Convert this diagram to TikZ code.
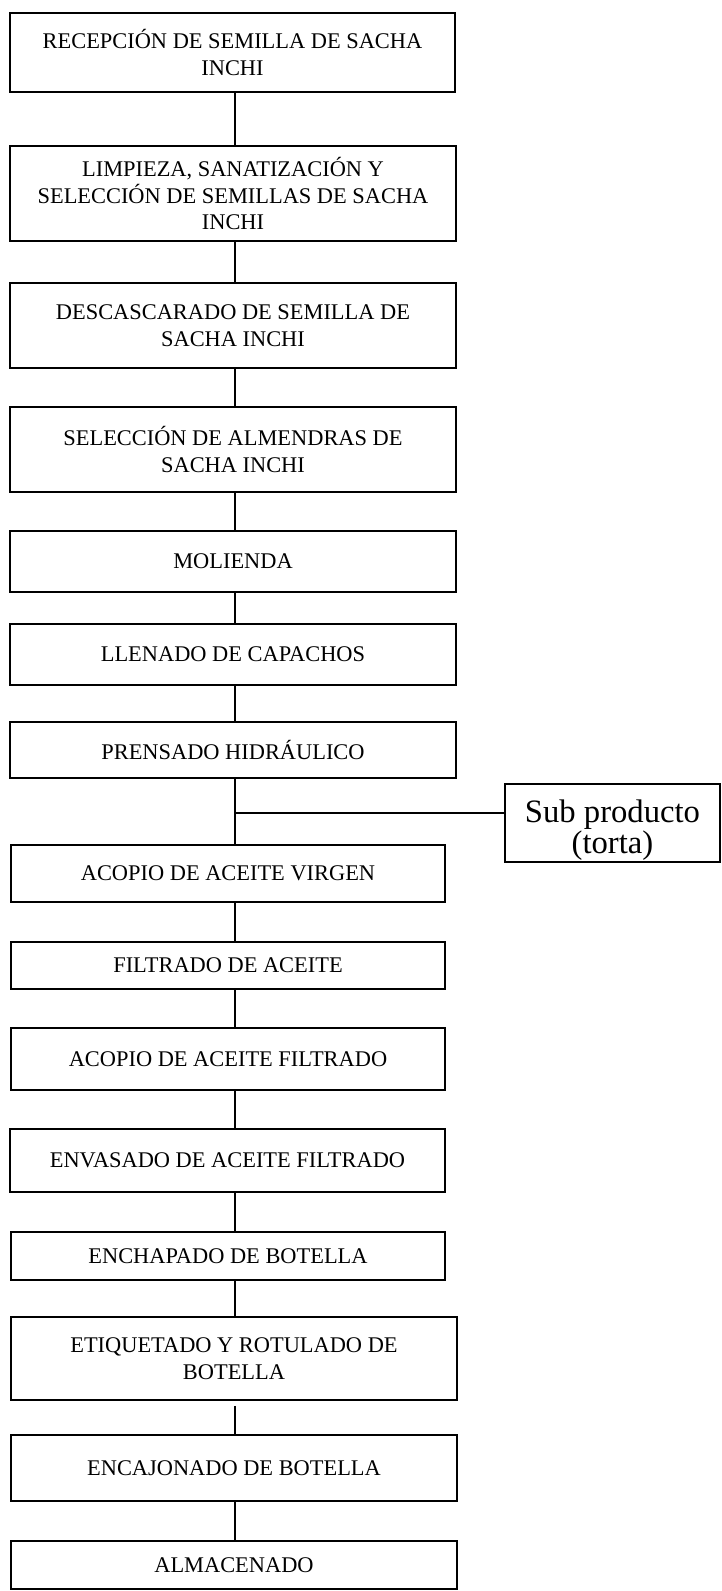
\documentclass[tikz,border=0pt]{standalone}
\usepackage{fontspec}
\setmainfont{Liberation Serif}
\begin{document}
\begin{tikzpicture}[x=0.75pt,y=-0.75pt,
  pbox/.style={draw=black, line width=1.4pt, inner sep=0pt, align=center,
    font=\fontsize{16.8}{20}\selectfont},
  link/.style={draw=black, line width=1.4pt}]
\useasboundingbox (0,0) rectangle (721,1591);
\coordinate (sp) at (235,0);
\node[pbox, minimum width=445*0.75pt, minimum height=79*0.75pt] (n1) at (232.5,52.5) {RECEPCIÓN DE SEMILLA DE SACHA\\INCHI};
\node[pbox, minimum width=446*0.75pt, minimum height=95*0.75pt] (n2) at (233,193.5) {LIMPIEZA, SANATIZACIÓN Y\\SELECCIÓN DE SEMILLAS DE SACHA\\INCHI};
\node[pbox, minimum width=446*0.75pt, minimum height=85*0.75pt] (n3) at (233,325.5) {DESCASCARADO DE SEMILLA DE\\SACHA INCHI};
\node[pbox, minimum width=446*0.75pt, minimum height=85*0.75pt] (n4) at (233,449.5) {SELECCIÓN DE ALMENDRAS DE\\SACHA INCHI};
\node[pbox, minimum width=446*0.75pt, minimum height=61*0.75pt] (n5) at (233,561.5) {MOLIENDA};
\node[pbox, minimum width=446*0.75pt, minimum height=61*0.75pt] (n6) at (233,654.5) {LLENADO DE CAPACHOS};
\node[pbox, minimum width=446*0.75pt, minimum height=56*0.75pt] (n7) at (233,750) {PRENSADO HIDRÁULICO};
\node[pbox, minimum width=434*0.75pt, minimum height=57*0.75pt] (n8) at (228,873.5) {ACOPIO DE ACEITE VIRGEN};
\node[pbox, minimum width=434*0.75pt, minimum height=47*0.75pt] (n9) at (228,965.5) {FILTRADO DE ACEITE};
\node[pbox, minimum width=434*0.75pt, minimum height=62*0.75pt] (n10) at (228,1059) {ACOPIO DE ACEITE FILTRADO};
\node[pbox, minimum width=435*0.75pt, minimum height=63*0.75pt] (n11) at (227.5,1160.5) {ENVASADO DE ACEITE FILTRADO};
\node[pbox, minimum width=434*0.75pt, minimum height=48*0.75pt] (n12) at (228,1256) {ENCHAPADO DE BOTELLA};
\node[pbox, minimum width=446*0.75pt, minimum height=83*0.75pt] (n13) at (234,1358.5) {ETIQUETADO Y ROTULADO DE\\BOTELLA};
\node[pbox, minimum width=446*0.75pt, minimum height=66*0.75pt] (n14) at (234,1468) {ENCAJONADO DE BOTELLA};
\node[pbox, minimum width=446*0.75pt, minimum height=48*0.75pt] (n15) at (234,1565) {ALMACENADO};
\node[pbox, minimum width=215*0.75pt, minimum height=78*0.75pt, font=\fontsize{24.5}{22}\selectfont] (sub) at (612.5,823) {\rule{0pt}{28pt}Sub producto\\(torta)};
\coordinate (br) at (235,813);
\foreach \a/\b in {n1/n2,n2/n3,n3/n4,n4/n5,n5/n6,n6/n7,n8/n9,n9/n10,n10/n11,n11/n12,n12/n13,n14/n15}
  \draw[link] (\a.south -| sp) -- (\b.north -| sp);
\draw[link] (n7.south -| sp) -- (n8.north -| sp);
\draw[link] (br) -- (sub.west |- br);
\draw[link] ([yshift=-3.75pt]n13.south -| sp) -- (n14.north -| sp);
\end{tikzpicture}
\end{document}
